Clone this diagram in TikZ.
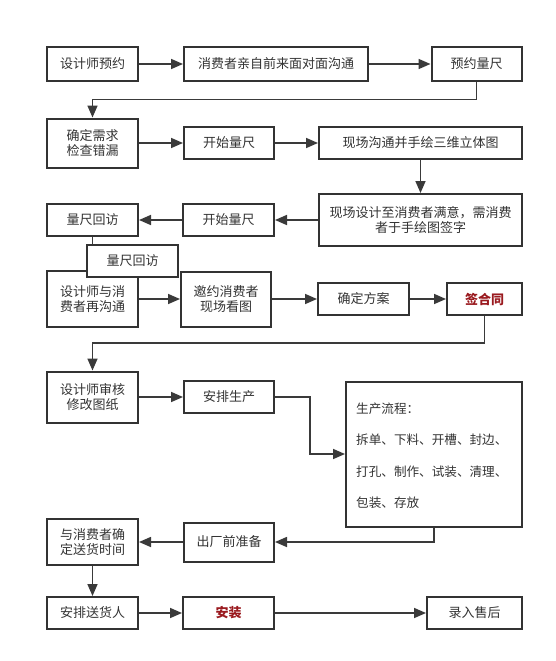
\documentclass[tikz,border=0pt]{standalone}
\usepackage{fontspec}
\setmainfont{Noto Sans CJK SC}
\usetikzlibrary{arrows.meta}
\definecolor{ink}{HTML}{333333}
\definecolor{lnk}{HTML}{3A3A3A}
\definecolor{redtxt}{HTML}{9A1A1F}
\tikzset{
  box/.style={draw=ink, line width=2pt, fill=white, text=ink, align=center, inner sep=2pt,
              font=\fontsize{13}{15.7}\selectfont},
  redbox/.style={box, text=redtxt, font=\fontsize{13}{15.7}\selectfont\bfseries},
  arr/.style={draw=lnk, line width=1.6pt, -{Triangle[length=12pt,width=10pt]}},
  ln/.style={draw=lnk, line width=1.6pt}
}
\begin{document}
\begin{tikzpicture}[x=1pt,y=-1pt]
\useasboundingbox[fill=white] (0,0) rectangle (556,661);
% row 1
\node[box, minimum width=91pt, minimum height=33pt] (A) at (92.5,64) {设计师预约};
\node[box, minimum width=184pt, minimum height=33pt] (B) at (276,64) {消费者亲自前来面对面沟通};
\node[box, minimum width=90pt, minimum height=33pt] (C) at (476.5,64) {预约量尺};
% row 2
\node[box, minimum width=91pt, minimum height=49pt] (D) at (92.5,143) {确定需求\\检查错漏};
\node[box, minimum width=90pt, minimum height=32pt] (E) at (229,143) {开始量尺};
\node[box, minimum width=203pt, minimum height=32pt] (F) at (420.5,143) {现场沟通并手绘三维立体图};
% row 3
\node[box, minimum width=203pt, minimum height=52pt] (G) at (420.5,220) {现场设计至消费者满意，需消费\\者于手绘图签字};
\node[box, minimum width=91pt, minimum height=32pt] (H) at (228.5,220) {开始量尺};
\node[box, minimum width=91pt, minimum height=32pt] (I) at (92.5,220) {量尺回访};
% row 4
\node[box, minimum width=91pt, minimum height=56pt] (K) at (92.5,299) {设计师与消\\费者再沟通};
\node[box, minimum width=91pt, minimum height=32pt] (J) at (132.5,261) {量尺回访};
\node[box, minimum width=90pt, minimum height=55pt] (L) at (226,299) {邀约消费者\\现场看图};
\node[box, minimum width=91pt, minimum height=32pt] (M) at (363.5,299) {确定方案};
\node[redbox, minimum width=75pt, minimum height=32pt] (N) at (484.5,299) {签合同};
% row 5
\node[box, minimum width=91pt, minimum height=51pt] (O) at (92.5,397) {设计师审核\\修改图纸};
\node[box, minimum width=90pt, minimum height=32pt] (P) at (229,397) {安排生产};
\node[box, minimum width=176pt, minimum height=145pt] (Q) at (434,454) {};
\node[text=ink, align=left, anchor=west, inner sep=0pt,
      font=\fontsize{12.6}{31.5}\selectfont] (Qt) at (356,455.5)
      {生产流程：\\拆单、下料、开槽、封边、\\打孔、制作、试装、清理、\\包装、存放};
% row 6
\node[box, minimum width=90pt, minimum height=39pt] (R) at (229,542) {出厂前准备};
\node[box, minimum width=91pt, minimum height=46pt] (S) at (92.5,542) {与消费者确\\定送货时间};
% row 7
\node[box, minimum width=91pt, minimum height=32pt] (T) at (92.5,613) {安排送货人};
\node[redbox, minimum width=91pt, minimum height=32pt] (U) at (228.5,613) {安装};
\node[box, minimum width=95pt, minimum height=32pt] (V) at (474.5,613) {录入售后};
% helper coordinates
\coordinate (c1) at (476.5,99.5);
\coordinate (c2) at (484.5,343);
\coordinate (c3) at (310,397);
% connectors
\draw[arr] (A.east) -- (B.west);
\draw[arr] (B.east) -- (C.west);
\draw[arr] (C.south) -- (c1) -| (D.north);
\draw[arr] (D.east) -- (E.west);
\draw[arr] (E.east) -- (F.west);
\draw[arr] (F.south) -- (G.north);
\draw[arr] (G.west) -- (H.east);
\draw[arr] (H.west) -- (I.east);
\draw[ln] (I.south) -- (I.south |- J.north);
\draw[arr] (K.east) -- (L.west);
\draw[arr] (L.east) -- (M.west);
\draw[arr] (M.east) -- (N.west);
\draw[arr] (N.south) -- (c2) -| (O.north);
\draw[arr] (O.east) -- (P.west);
\draw[arr] (P.east) -- (c3) |- (Q.west);
\draw[arr] (Q.south) |- (R.east);
\draw[arr] (R.west) -- (S.east);
\draw[arr] (S.south) -- (T.north);
\draw[arr] (T.east) -- (U.west);
\draw[arr] (U.east) -- (V.west);
\end{tikzpicture}
\end{document}
